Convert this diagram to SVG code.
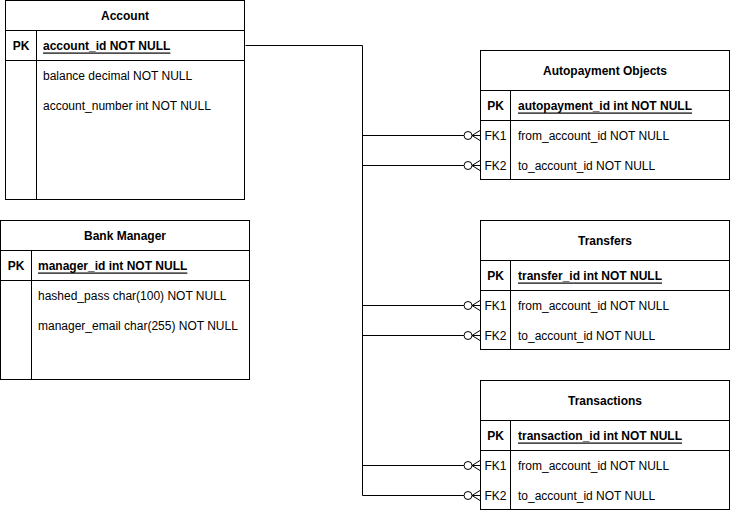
<svg xmlns="http://www.w3.org/2000/svg" width="731" height="511" viewBox="0 0 731 511">
<style>
.box{fill:#fff;stroke:#000;stroke-width:1}
.ln{stroke:#000;stroke-width:1;fill:none}
text{font-family:"Liberation Sans",Arial,sans-serif;font-size:12px;fill:#000;dominant-baseline:central}
.h{font-weight:bold;text-anchor:middle}
.k{font-weight:bold;text-anchor:middle}
.f{text-anchor:middle}
.pk{font-weight:bold;text-decoration:underline}
</style>
<defs>
<marker id="zm" markerWidth="20" markerHeight="14" refX="18" refY="7" orient="auto" markerUnits="userSpaceOnUse">
<circle cx="6" cy="7" r="4" fill="#fff" stroke="#000" stroke-width="1"/>
<path d="M10 7 L18 7 M10 7 L18 2 M10 7 L18 12" fill="none" stroke="#000" stroke-width="1"/>
</marker>
</defs>
<g id="connectors">
<path class="ln" d="M245.5 45.5 H362.5 V495.5"/>
<path class="ln" d="M362.5 135.5 H480" marker-end="url(#zm)"/>
<path class="ln" d="M362.5 165.5 H480" marker-end="url(#zm)"/>
<path class="ln" d="M362.5 305.5 H480" marker-end="url(#zm)"/>
<path class="ln" d="M362.5 335.5 H480" marker-end="url(#zm)"/>
<path class="ln" d="M362.5 465.5 H480" marker-end="url(#zm)"/>
<path class="ln" d="M362.5 495.5 H480" marker-end="url(#zm)"/>
</g>
<g id="account">
<rect class="box" x="5.5" y="0.5" width="239" height="199"/>
<path class="ln" d="M5.5 30.5 H244.5 M5.5 60.5 H244.5 M36.5 30.5 V199.5"/>
<text class="h" x="125" y="15.5">Account</text>
<text class="k" x="21" y="45.5">PK</text>
<text class="pk" x="43" y="45.5">account_id NOT NULL</text>
<text x="43" y="75.5">balance decimal NOT NULL</text>
<text x="43" y="105.5">account_number int NOT NULL</text>
</g>
<g id="bank_manager">
<rect class="box" x="0.5" y="220.5" width="249" height="159"/>
<path class="ln" d="M0.5 250.5 H249.5 M0.5 280.5 H249.5 M31.5 250.5 V379.5"/>
<text class="h" x="125" y="235.5">Bank Manager</text>
<text class="k" x="16" y="265.5">PK</text>
<text class="pk" x="38" y="265.5">manager_id int NOT NULL</text>
<text x="38" y="295.5">hashed_pass char(100) NOT NULL</text>
<text x="38" y="325.5">manager_email char(255) NOT NULL</text>
</g>
<g id="autopayment">
<rect class="box" x="480.5" y="50.5" width="249" height="129"/>
<path class="ln" d="M480.5 90.5 H729.5 M480.5 120.5 H729.5 M510.5 90.5 V179.5"/>
<text class="h" x="605" y="71">Autopayment Objects</text>
<text class="k" x="495.5" y="105.5">PK</text>
<text class="pk" x="518" y="105.5">autopayment_id int NOT NULL</text>
<text class="f" x="495.5" y="135.5">FK1</text>
<text x="518" y="135.5">from_account_id NOT NULL</text>
<text class="f" x="495.5" y="165.5">FK2</text>
<text x="518" y="165.5">to_account_id NOT NULL</text>
</g>
<g id="transfers">
<rect class="box" x="480.5" y="220.5" width="249" height="129"/>
<path class="ln" d="M480.5 260.5 H729.5 M480.5 290.5 H729.5 M510.5 260.5 V349.5"/>
<text class="h" x="605" y="241">Transfers</text>
<text class="k" x="495.5" y="275.5">PK</text>
<text class="pk" x="518" y="275.5">transfer_id int NOT NULL</text>
<text class="f" x="495.5" y="305.5">FK1</text>
<text x="518" y="305.5">from_account_id NOT NULL</text>
<text class="f" x="495.5" y="335.5">FK2</text>
<text x="518" y="335.5">to_account_id NOT NULL</text>
</g>
<g id="transactions">
<rect class="box" x="480.5" y="380.5" width="249" height="129"/>
<path class="ln" d="M480.5 420.5 H729.5 M480.5 450.5 H729.5 M510.5 420.5 V509.5"/>
<text class="h" x="605" y="401">Transactions</text>
<text class="k" x="495.5" y="435.5">PK</text>
<text class="pk" x="518" y="435.5">transaction_id int NOT NULL</text>
<text class="f" x="495.5" y="465.5">FK1</text>
<text x="518" y="465.5">from_account_id NOT NULL</text>
<text class="f" x="495.5" y="495.5">FK2</text>
<text x="518" y="495.5">to_account_id NOT NULL</text>
</g>
</svg>
